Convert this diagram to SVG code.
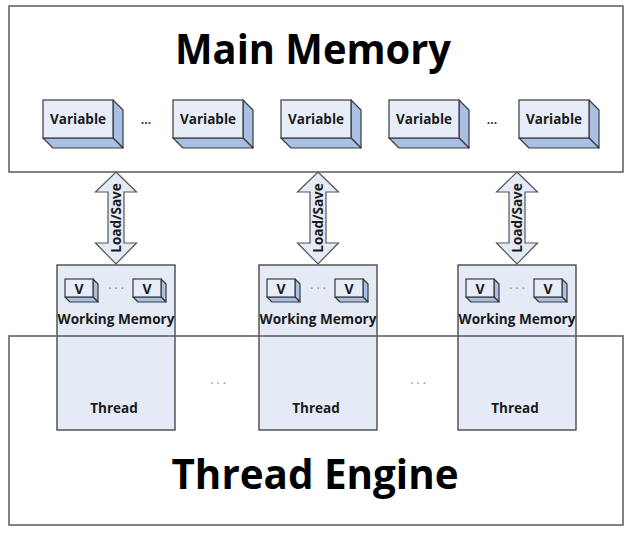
<svg xmlns="http://www.w3.org/2000/svg" xmlns:xlink="http://www.w3.org/1999/xlink" width="636" height="537" viewBox="0 0 636 537">
<style>
.frame{fill:none;stroke:#5a5a5a;stroke-width:1.5}
.face{fill:#e7edf8;stroke:#3a3a3a;stroke-width:1.2}
.side{fill:#a9bfe3;stroke:#3a3a3a;stroke-width:1.2;stroke-linejoin:round}
.tbox{fill:#e5ebf6;stroke:#3c3c3c;stroke-width:1.3}
.arrow{fill:#e5ebf6;stroke:#555;stroke-width:1.2;stroke-linejoin:miter}
text{font-family:"Open Sans","Noto Sans","Liberation Sans",sans-serif;font-weight:bold;fill:#1a1a1a;text-anchor:middle}
.title{font-size:41px;fill:#000}
.lbl{font-size:13.5px}
.wm{font-size:14px}
.v{font-size:14px}
.dots{font-size:12px;fill:#333}
.gdots{font-size:12px;fill:#888;font-weight:normal}
.ls{font-size:13.5px}
</style>
<defs>
<g id="varbox">
<polygon class="side" points="70,0 80,10 80,48 70,38"/>
<polygon class="side" points="0,38 70,38 80,48 10,48"/>
<rect class="face" x="0" y="0" width="70" height="38"/>
</g>
<g id="vbox">
<polygon class="side" points="28,0 33,5 33,23 28,18"/>
<polygon class="side" points="0,18 28,18 33,23 5,23"/>
<rect class="face" x="0" y="0" width="28" height="18"/>
</g>
<polygon id="dbl" class="arrow" points="0,0 20.5,20 8,20 8,71 20.5,71 0,92 -20.5,71 -8,71 -8,20 -20.5,20"/>
</defs>
<rect width="636" height="537" fill="#fff"/>

<g id="main-memory">
<rect class="frame" x="9" y="6" width="614" height="166"/>
<text class="title" x="313" y="64" textLength="276" lengthAdjust="spacingAndGlyphs">Main Memory</text>
<g id="var1"><use xlink:href="#varbox" x="43" y="100"/><text class="lbl" x="78" y="124">Variable</text></g>
<text class="dots" x="146" y="124">...</text>
<g id="var2"><use xlink:href="#varbox" x="173" y="100"/><text class="lbl" x="208" y="124">Variable</text></g>
<g id="var3"><use xlink:href="#varbox" x="281" y="100"/><text class="lbl" x="316" y="124">Variable</text></g>
<g id="var4"><use xlink:href="#varbox" x="389" y="100"/><text class="lbl" x="424" y="124">Variable</text></g>
<text class="dots" x="492" y="124">...</text>
<g id="var5"><use xlink:href="#varbox" x="519" y="100"/><text class="lbl" x="554" y="124">Variable</text></g>
</g>

<g id="thread1">
<rect class="tbox" x="57" y="265" width="118" height="165"/>
<use xlink:href="#vbox" x="65" y="279"/><text class="v" x="79" y="293.5">V</text>
<text class="gdots" x="116" y="293">· · ·</text>
<use xlink:href="#vbox" x="133" y="279"/><text class="v" x="147" y="293.5">V</text>
<text class="wm" x="116" y="324" textLength="117" lengthAdjust="spacingAndGlyphs">Working Memory</text>
<text class="lbl" x="114" y="413">Thread</text>
</g>
<g id="thread2">
<rect class="tbox" x="259" y="265" width="118" height="165"/>
<use xlink:href="#vbox" x="267" y="279"/><text class="v" x="281" y="293.5">V</text>
<text class="gdots" x="318" y="293">· · ·</text>
<use xlink:href="#vbox" x="335" y="279"/><text class="v" x="349" y="293.5">V</text>
<text class="wm" x="318" y="324" textLength="117" lengthAdjust="spacingAndGlyphs">Working Memory</text>
<text class="lbl" x="316" y="413">Thread</text>
</g>
<g id="thread3">
<rect class="tbox" x="458" y="265" width="118" height="165"/>
<use xlink:href="#vbox" x="466" y="279"/><text class="v" x="480" y="293.5">V</text>
<text class="gdots" x="517" y="293">· · ·</text>
<use xlink:href="#vbox" x="534" y="279"/><text class="v" x="548" y="293.5">V</text>
<text class="wm" x="517" y="324" textLength="117" lengthAdjust="spacingAndGlyphs">Working Memory</text>
<text class="lbl" x="515" y="413">Thread</text>
</g>

<g id="thread-engine">
<rect class="frame" x="9" y="336" width="614" height="189"/>
<text class="gdots" x="218" y="388">· · ·</text>
<text class="gdots" x="418" y="388">· · ·</text>
<text class="title" x="315" y="489" textLength="287" lengthAdjust="spacingAndGlyphs">Thread Engine</text>
</g>

<g id="connectors">
<g id="conn1"><use xlink:href="#dbl" x="116" y="172"/><text class="ls" transform="translate(121,218) rotate(-90)">Load/Save</text></g>
<g id="conn2"><use xlink:href="#dbl" x="318" y="172"/><text class="ls" transform="translate(323,218) rotate(-90)">Load/Save</text></g>
<g id="conn3"><use xlink:href="#dbl" x="517" y="172"/><text class="ls" transform="translate(522,218) rotate(-90)">Load/Save</text></g>
</g>
</svg>
